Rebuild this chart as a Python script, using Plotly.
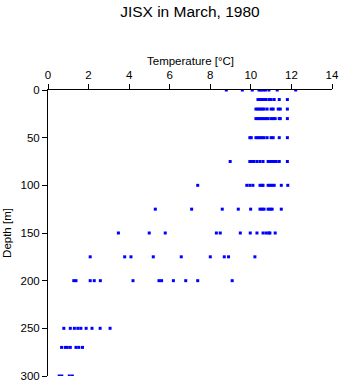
import plotly.graph_objects as go

# Depth levels [m] and temperatures [°C] measured at each level
depths = [0, 10, 20, 30, 50, 75, 100, 125, 150, 175, 200, 250, 270, 300]

temps_0 = [8.79, 9.58, 10.07, 10.4, 10.5, 10.6, 10.72, 10.89, 11.3, 12.21]
temps_10 = [10.35, 10.45, 10.55, 10.65, 10.75, 10.9, 11.0, 11.15, 11.4, 11.8]
temps_20 = [10.25, 10.35, 10.45, 10.55, 10.65, 10.8, 11.0, 11.1, 11.35, 11.45, 11.8]
temps_30 = [10.25, 10.35, 10.45, 10.55, 10.65, 10.75, 10.85, 11.0, 11.1, 11.2, 11.4, 11.45, 11.8]
temps_50 = [9.95, 10.02, 10.25, 10.35, 10.45, 10.55, 10.65, 10.8, 11.0, 11.1, 11.4, 11.8]
temps_75 = [8.98, 9.95, 10.05, 10.15, 10.3, 10.45, 10.6, 10.85, 10.95, 11.05, 11.15, 11.25, 11.4, 11.8]
temps_100 = [7.38, 9.8, 9.95, 10.1, 10.45, 10.55, 10.6, 10.85, 10.95, 11.05, 11.15, 11.5, 11.82]
temps_125 = [5.29, 7.08, 8.59, 9.38, 9.99, 10.45, 10.55, 10.65, 10.85, 10.95, 11.05, 11.5]
temps_150 = [3.47, 4.99, 5.78, 8.3, 8.49, 9.48, 9.97, 10.3, 10.6, 10.75, 10.88, 10.94, 11.2]
temps_175 = [2.08, 3.78, 4.09, 5.19, 6.57, 8.0, 8.69, 8.9, 10.2]
temps_200 = [1.27, 1.38, 2.08, 2.28, 2.58, 4.19, 5.47, 5.6, 6.18, 6.79, 7.38, 9.08]
temps_250 = [0.78, 1.1, 1.3, 1.47, 1.62, 1.88, 2.17, 2.57, 3.06]
temps_270 = [0.67, 0.85, 0.95, 1.1, 1.38, 1.52, 1.7]
temps_300 = [0.55, 0.68, 1.05, 1.2]

temps_by_depth = [temps_0, temps_10, temps_20, temps_30, temps_50, temps_75, temps_100,
                  temps_125, temps_150, temps_175, temps_200, temps_250, temps_270, temps_300]

x_ticks = [0, 2, 4, 6, 8, 10, 12, 14]
y_ticks = [0, 50, 100, 150, 200, 250, 300]

xs, ys = [], []
for d, ts in zip(depths, temps_by_depth):
    for t in ts:
        xs.append(t)
        ys.append(d)

FONT = "Liberation Sans, Arial, Helvetica, sans-serif"

fig = go.Figure()
fig.add_trace(go.Scatter(
    x=xs, y=ys, mode="markers",
    marker=dict(symbol="square", size=3, color="#0000ff", line=dict(width=0)),
    showlegend=False, hoverinfo="x+y",
))

fig.update_layout(
    width=341, height=384,
    margin=dict(l=48, r=9, t=90, b=8),
    paper_bgcolor="white", plot_bgcolor="white",
    font=dict(family=FONT, size=11, color="black"),
    title=dict(text="JISX in March, 1980", font=dict(family=FONT, size=15.5, color="black"),
               x=0.557, xanchor="center", xref="container",
               y=1 - 12 / 384, yanchor="middle", yref="container"),
    annotations=[dict(text="Temperature [°C]", xref="paper", yref="paper",
                      x=0.5, y=1 + 29 / 286, xanchor="center", yanchor="middle",
                      showarrow=False, font=dict(family=FONT, size=11.5, color="black"))],
)

fig.update_xaxes(
    side="top", range=[0, 14], tickvals=x_ticks, ticktext=[str(v) for v in x_ticks],
    showgrid=False, zeroline=False, showline=True, linecolor="black", linewidth=1,
    ticks="outside", ticklen=5, tickcolor="black", tickwidth=1,
    tickfont=dict(size=11.5), automargin=False,
)
fig.update_yaxes(
    range=[300, 0], tickvals=y_ticks, ticktext=[str(v) for v in y_ticks],
    showgrid=False, zeroline=False, showline=True, linecolor="black", linewidth=1,
    ticks="outside", ticklen=5, tickcolor="black", tickwidth=1,
    title=dict(text="Depth [m]", font=dict(size=11.5), standoff=6),
    tickfont=dict(size=11.5), automargin=False,
)

fig.write_html("out.html")
